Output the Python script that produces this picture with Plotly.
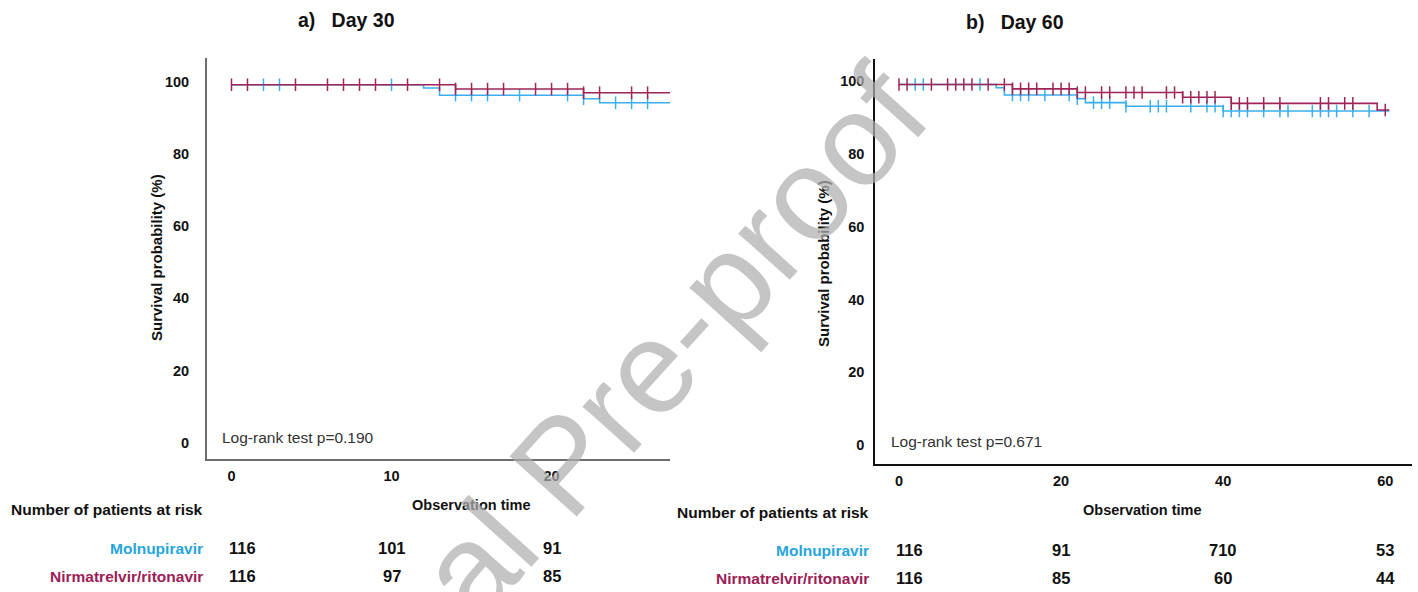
import numpy as np
import plotly.graph_objects as go

W, H = 1418, 592


def px(x):
    return x / W


def py(y):
    return 1 - y / H


# ---- Kaplan-Meier data (survival in %) ----
# Molnupiravir: event times and survival after each step
mol_t = [0, 12, 13, 22, 23, 28, 40, 60.5]
mol_s = [99.1, 98.2, 96.2, 95.2, 94.1, 93.1, 91.8, 91.8]
# Nirmatrelvir/ritonavir
nir_t = [0, 14, 22, 35, 41, 59, 60.5]
nir_s = [99.1, 97.9, 96.9, 95.6, 93.9, 92.1, 92.1]

# censored observations (days)
mol_cens_30 = [2, 3, 10, 14, 15, 16, 18, 21, 22, 24, 25, 26]
nir_cens_30 = [0, 1, 4, 6, 7, 8, 9, 11, 13, 14, 15, 16, 17, 19, 20, 21, 22, 23, 25, 26]
mol_cens_60 = [2, 3, 10, 14, 15, 16, 18, 21, 22, 24, 25, 26, 28, 31, 32, 33, 36, 38, 39,
               40, 41, 42, 43, 45, 47, 48, 51, 52, 53, 54, 56, 58]
nir_cens_60 = [0, 1, 4, 6, 7, 8, 9, 11, 13, 14, 15, 16, 17, 19, 20, 21, 22, 23, 25, 26,
               28, 29, 30, 33, 34, 35, 36, 37, 38, 39, 41, 42, 43, 45, 47, 52, 53, 55, 56, 60]

# number at risk
groups = ["Molnupiravir", "Nirmatrelvir/ritonavir"]
risk_times_30 = [0, 10, 20]
risk_mol_30 = ["116", "101", "91"]
risk_nir_30 = ["116", "97", "85"]
risk_times_60 = [0, 20, 40, 60]
risk_mol_60 = ["116", "91", "710", "53"]
risk_nir_60 = ["116", "85", "60", "44"]

pvals = ["0.190", "0.671"]
titles = ["a)   Day 30", "b)   Day 60"]

BLUE = "#3aaeee"
MAG = "#a02358"
BLUE_TXT = "#27a5dd"
MAG_TXT = "#9c2055"
FONT = "Liberation Sans, Arial, sans-serif"


def step_value(times, surv, t):
    i = np.searchsorted(np.asarray(times), t, side="right") - 1
    return float(np.asarray(surv)[max(i, 0)])


def curve(times, surv, tmax):
    t = [x for x in times if x <= tmax]
    s = [surv[i] for i, x in enumerate(times) if x <= tmax]
    if t[-1] < tmax:
        t.append(tmax)
        s.append(s[-1])
    return t, s


fig = go.Figure()

panels = [
    dict(xa="x", ya="y", tmax=28, mc=mol_cens_30, nc=nir_cens_30),
    dict(xa="x2", ya="y2", tmax=60.5, mc=mol_cens_60, nc=nir_cens_60),
]

for p in panels:
    for times, surv, cens, col in [(mol_t, mol_s, p["mc"], BLUE), (nir_t, nir_s, p["nc"], MAG)]:
        t, s = curve(times, surv, p["tmax"])
        fig.add_trace(go.Scatter(x=t, y=s, mode="lines", line=dict(color=col, width=1.6, shape="hv"),
                                 xaxis=p["xa"], yaxis=p["ya"], showlegend=False, hoverinfo="skip"))
        cy = [step_value(times, surv, c) for c in cens]
        fig.add_trace(go.Scatter(x=cens, y=cy, mode="markers",
                                 marker=dict(symbol="line-ns", size=9, line=dict(color=col, width=1.5)),
                                 xaxis=p["xa"], yaxis=p["ya"], showlegend=False, hoverinfo="skip"))

tickfont = dict(family=FONT, size=14.5, color="#111", weight="bold")
common = dict(showgrid=False, zeroline=False, ticks="", showline=True, fixedrange=True)

fig.update_layout(
    width=W, height=H, margin=dict(l=0, r=0, t=0, b=0),
    paper_bgcolor="white", plot_bgcolor="white",
    xaxis=dict(domain=[px(207), px(670)], range=[-1.53, 27.4], anchor="y",
               tickvals=risk_times_30, linecolor="#6e6e6e", linewidth=2,
               tickfont=tickfont, ticklabelstandoff=3, **common),
    yaxis=dict(domain=[py(459), py(58)], range=[-4.5, 106.5], anchor="x",
               tickvals=[0, 20, 40, 60, 80, 100], linecolor="#6e6e6e", linewidth=2,
               tickfont=tickfont, ticklabelstandoff=13, **common),
    xaxis2=dict(domain=[px(875), px(1412)], range=[-2.96, 63.3], anchor="y2",
                tickvals=risk_times_60, linecolor="#111", linewidth=1.5,
                tickfont=tickfont, ticklabelstandoff=3, **common),
    yaxis2=dict(domain=[py(463.7), py(59)], range=[-5.1, 106.1], anchor="x2",
                tickvals=[0, 20, 40, 60, 80, 100], linecolor="#111", linewidth=1.5,
                tickfont=tickfont, ticklabelstandoff=6, **common),
)

ann = []
bold = dict(family=FONT, color="#111", weight="bold")

# panel titles
ann.append(dict(text=titles[0], x=px(346), y=py(20), font=dict(size=19.5, **bold)))
ann.append(dict(text=titles[1], x=px(1015), y=py(22), font=dict(size=19.5, **bold)))

# y-axis titles
ann.append(dict(text="Survival probability (%)", x=px(157), y=py(258), textangle=-90,
                font=dict(size=15, **bold)))
ann.append(dict(text="Survival probability (%)", x=px(823), y=py(264), textangle=-90,
                font=dict(size=15, **bold)))

# log-rank annotations
ann.append(dict(text=f"Log-rank test p={pvals[0]}", x=px(220), y=py(437), xanchor="left",
                font=dict(family=FONT, size=15.5, color="#333")))
ann.append(dict(text=f"Log-rank test p={pvals[1]}", x=px(889), y=py(441), xanchor="left",
                font=dict(family=FONT, size=15.5, color="#333")))

# x-axis titles
ann.append(dict(text="Observation time", x=px(471), y=py(505), font=dict(size=14.5, **bold)))
ann.append(dict(text="Observation time", x=px(1142), y=py(510), font=dict(size=14.5, **bold)))

# number-at-risk tables
tables = [
    dict(xref="x", hx=205, hy=509, ry=[548, 576], times=risk_times_30, rows=[risk_mol_30, risk_nir_30]),
    dict(xref="x2", hx=871, hy=512, ry=[550, 578], times=risk_times_60, rows=[risk_mol_60, risk_nir_60]),
]
for tb in tables:
    ann.append(dict(text="Number of patients at risk", x=px(tb["hx"]), y=py(tb["hy"]), xanchor="right",
                    font=dict(size=15.5, **bold)))
    for gname, gcol, yy, vals in zip(groups, [BLUE_TXT, MAG_TXT], tb["ry"], tb["rows"]):
        ann.append(dict(text=gname, x=px(tb["hx"]), y=py(yy), xanchor="right",
                        font=dict(family=FONT, size=15.5, color=gcol, weight="bold")))
        for k, (t, v) in enumerate(zip(tb["times"], vals)):
            ann.append(dict(text=v, x=t, xref=tb["xref"], y=py(yy), xanchor="center",
                            xshift=11 if k == 0 else 0,
                            font=dict(size=16.5, **bold)))

# watermark
ann.append(dict(text="Journal Pre-proof", x=px(562), y=py(464), textangle=-48,
                font=dict(family=FONT, size=131, color="rgba(175,175,175,0.72)")))

for a in ann:
    a.setdefault("xref", "paper")
    a.setdefault("yref", "paper")
    a.setdefault("showarrow", False)
    a.setdefault("xanchor", "center")
    a.setdefault("yanchor", "middle")

fig.update_layout(annotations=ann)
fig.write_html("out.html")
